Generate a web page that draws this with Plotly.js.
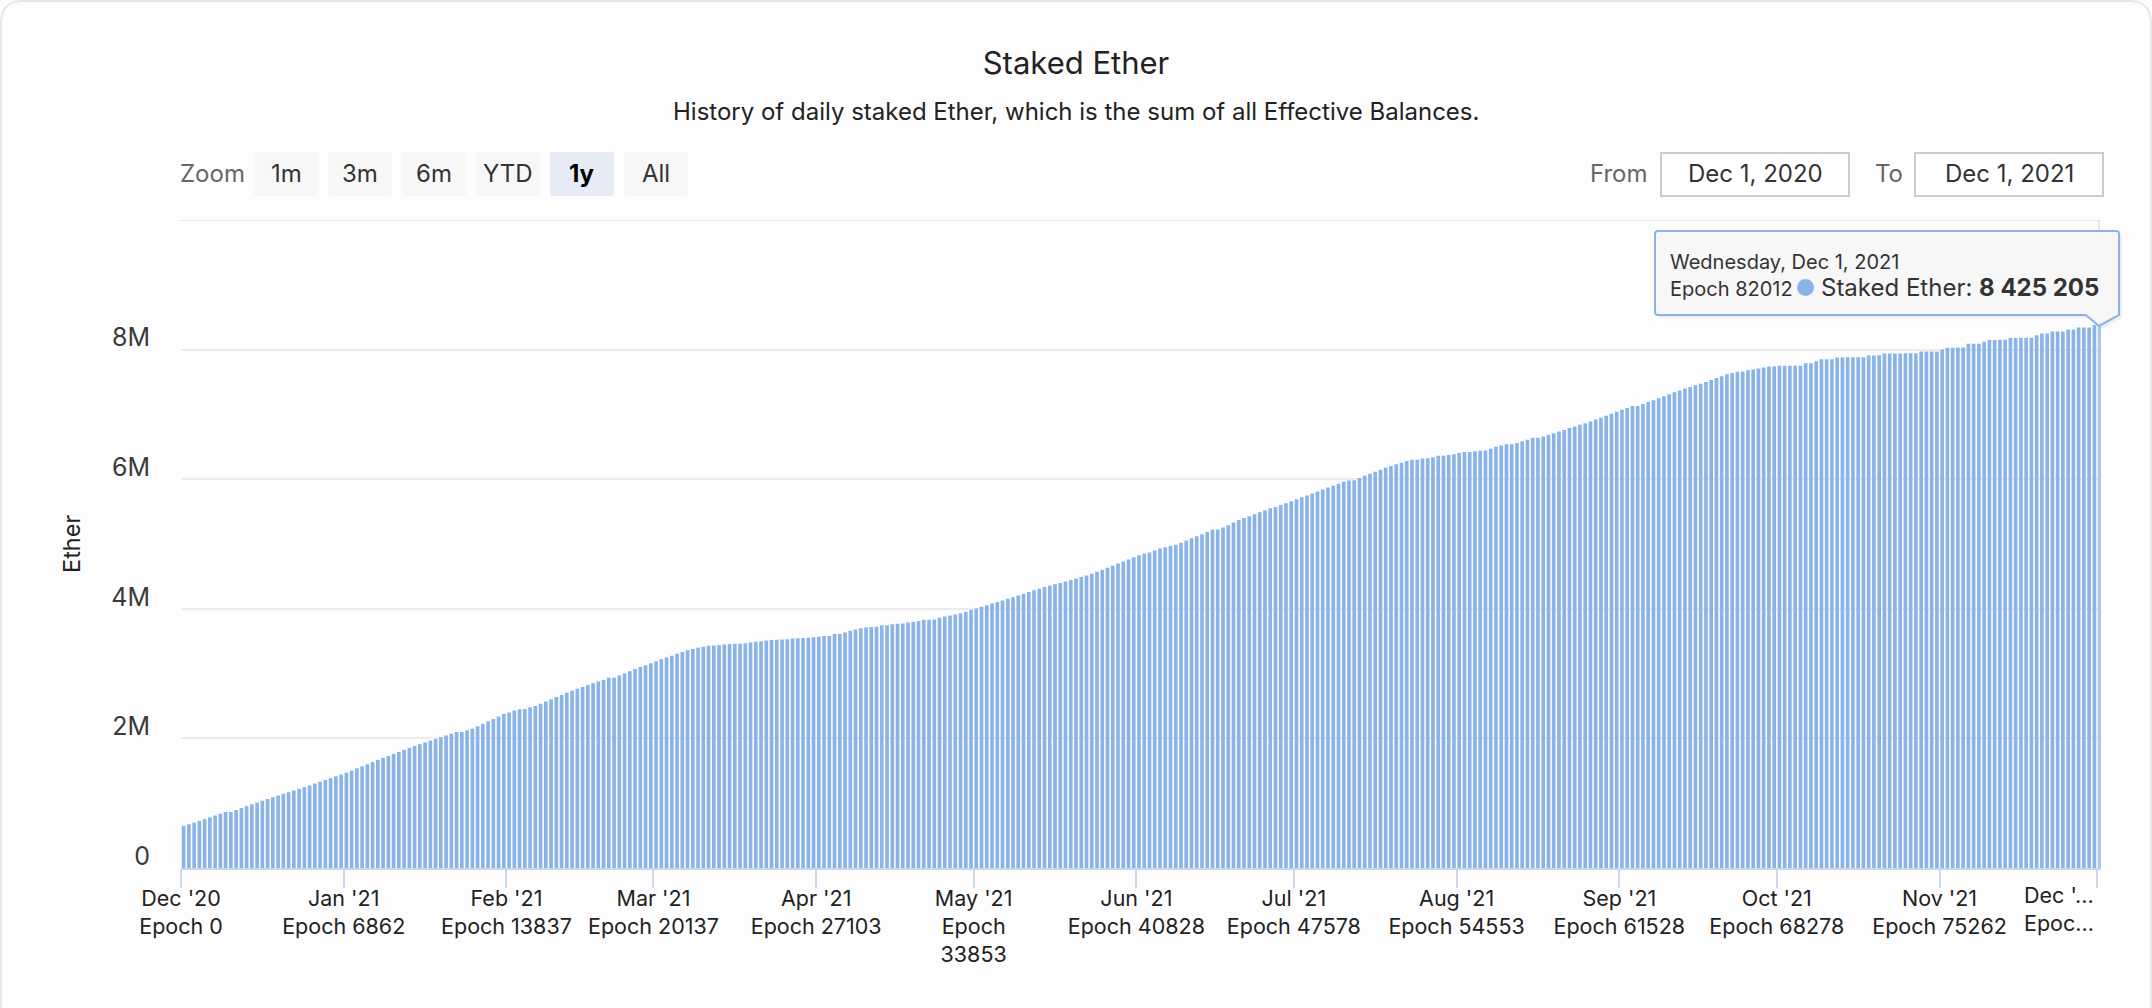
<!DOCTYPE html>
<html>
<head>
<meta charset="utf-8">
<script src="https://cdn.plot.ly/plotly-3.0.1.min.js"></script>
<style>
html,body{margin:0;padding:0;background:#fdfdfd;}
#chart{width:2152px;height:1008px;}
</style>
</head>
<body>
<div id="chart"></div>
<script>
// ---- DATA ----
const firstDay = [2020, 11, 1]; // Dec 1, 2020 (month index 11)
// Daily staked Ether, in thousands of ETH, Dec 1 2020 .. Dec 1 2021
const stakedK = [
  // Dec 2020
  649,675,700,728,755,782,810,838,865,866,895,925,954,983,1010,1038,1065,1092,1118,1145,1170,1196,1222,1248,1275,1303,1331,1359,1387,1415,1443,
  // Jan 2021
  1471,1504,1537,1568,1600,1633,1666,1699,1730,1761,1792,1823,1854,1884,1911,1938,1965,1992,2019,2046,2073,2100,2100,2125,2150,2187,2224,2262,2300,2338,2378,
  // Feb
  2400,2430,2450,2452,2480,2500,2535,2570,2602,2637,2670,2704,2735,2765,2795,2825,2852,2878,2903,2935,2937,2970,3003,3036,3070,3100,3130,3160,
  // Mar
  3190,3220,3250,3275,3305,3335,3360,3380,3400,3415,3430,3435,3440,3448,3455,3460,3462,3470,3480,3490,3500,3510,3520,3521,3525,3530,3540,3545,3550,3553,3560,
  // Apr
  3570,3580,3582,3610,3612,3635,3660,3680,3700,3712,3720,3722,3745,3746,3760,3770,3772,3790,3800,3812,3830,3831,3833,3860,3880,3895,3912,3930,3955,3980,
  // May
  4005,4030,4055,4080,4105,4130,4155,4180,4205,4230,4258,4285,4310,4335,4360,4380,4400,4420,4443,4467,4490,4515,4540,4570,4600,4632,4665,4700,4730,4762,4795,
  // Jun
  4825,4850,4870,4900,4930,4950,4970,4990,5020,5055,5090,5120,5150,5185,5220,5222,5255,5290,5330,5370,5400,5430,5460,5490,5520,5550,5572,5600,5630,5660,
  // Jul
  5690,5720,5750,5780,5810,5840,5870,5900,5930,5960,5980,5982,6020,6055,6085,6115,6145,6175,6205,6230,6255,6280,6300,6302,6320,6322,6340,6360,6362,6372,6385,
  // Aug
  6405,6420,6421,6430,6440,6441,6470,6500,6520,6540,6541,6560,6585,6610,6640,6641,6660,6685,6710,6735,6760,6790,6815,6840,6865,6892,6920,6950,6980,7010,7040,
  // Sep
  7070,7100,7130,7131,7160,7190,7220,7250,7280,7310,7340,7370,7400,7422,7450,7472,7500,7530,7560,7590,7620,7640,7660,7662,7680,7692,7710,7722,7740,7742,
  // Oct
  7750,7750,7751,7752,7752,7790,7791,7820,7850,7851,7852,7880,7880,7881,7882,7882,7883,7910,7910,7911,7940,7940,7941,7941,7942,7942,7943,7970,7970,7971,7972,
  // Nov
  8000,8030,8030,8031,8032,8090,8090,8091,8120,8150,8150,8151,8152,8180,8180,8181,8182,8183,8220,8250,8250,8280,8280,8281,8310,8310,8340,8340,8341,8380,
  // Dec 1 2021
  8425.205
];
const monthTicks = ['2020-12-01','2021-01-01','2021-02-01','2021-03-01','2021-04-01','2021-05-01','2021-06-01','2021-07-01','2021-08-01','2021-09-01','2021-10-01','2021-11-01','2021-12-01'];
const monthLabels = ["Dec '20","Jan '21","Feb '21","Mar '21","Apr '21","May '21","Jun '21","Jul '21","Aug '21","Sep '21","Oct '21","Nov '21","Dec '21"];
const monthEpochs = [0,6862,13837,20137,27103,33853,40828,47578,54553,61528,68278,75262,82012];
const yTickVals = [0,2e6,4e6,6e6,8e6,10e6];
const yTickText = ['0','2M','4M','6M','8M',''];
const zoomButtons = ['1m','3m','6m','YTD','1y','All'];
const selectedButton = '1y';
const fromText = 'Dec 1, 2020';
const toText = 'Dec 1, 2021';
const tooltipDate = 'Wednesday, Dec 1, 2021';
const tooltipEpoch = 'Epoch 82012';

// ---- BUILD ----
function pad(n){return (n<10?'0':'')+n;}
const dates = stakedK.map((_, i) => {
  const d = new Date(Date.UTC(firstDay[0], firstDay[1], firstDay[2] + i));
  return d.getUTCFullYear() + '-' + pad(d.getUTCMonth()+1) + '-' + pad(d.getUTCDate()) + ' 12:00';
});
const values = stakedK.map(v => Math.round(v * 1000));
const barColor = '#8ab4e8';
const colors = values.map((_, i) => i === values.length - 1 ? '#a3c8f2' : barColor);

const tickText = monthLabels.map((m, i) => {
  if (i === monthLabels.length - 1) return '';
  if (i === 5) return m + '<br>Epoch<br>' + monthEpochs[i];
  return m + '<br>Epoch ' + monthEpochs[i];
});

// pixel -> paper helpers
const W = 2152, H = 1008, L = 181, R = 51, T = 220, B = 140;
const PW = W - L - R, PH = H - T - B;
const X = px => (px - L) / PW;
const Y = py => (H - B - py) / PH;
const P = (px, py) => X(px) + ',' + Y(py);
function rrect(x0, y0, x1, y1, r) {
  return 'M' + P(x0 + r, y0) + ' L' + P(x1 - r, y0) + ' Q' + P(x1, y0) + ' ' + P(x1, y0 + r) +
    ' L' + P(x1, y1 - r) + ' Q' + P(x1, y1) + ' ' + P(x1 - r, y1) +
    ' L' + P(x0 + r, y1) + ' Q' + P(x0, y1) + ' ' + P(x0, y1 - r) +
    ' L' + P(x0, y0 + r) + ' Q' + P(x0, y0) + ' ' + P(x0 + r, y0) + ' Z';
}

const FONT = 'Inter, "Noto Sans", sans-serif';
const shapes = [];
const annotations = [];

// card border
shapes.push({type:'path', xref:'paper', yref:'paper', path: rrect(1, 1, 2151, 1030, 22),
  line:{color:'#e6e6e6', width:2}, fillcolor:'rgba(0,0,0,0)', layer:'below'});

// top grid line (10M)
shapes.push({type:'line', xref:'paper', yref:'y', x0:X(178), x1:1, y0:yTickVals[yTickVals.length-1], y1:yTickVals[yTickVals.length-1],
  line:{color:'#ececec', width:2}, layer:'below'});

// zoom label + buttons
annotations.push({xref:'paper', yref:'paper', x:X(178), y:Y(174), xanchor:'left', yanchor:'middle',
  text:'Zoom', showarrow:false, font:{family:FONT, size:24, color:'#666'}});
const btnX = [254, 328, 402, 476, 550, 624];
const btnW = 64;
zoomButtons.forEach((b, i) => {
  const sel = b === selectedButton;
  shapes.push({type:'path', xref:'paper', yref:'paper', path: rrect(btnX[i], 152, btnX[i] + btnW, 196, 3),
    line:{width:0}, fillcolor: sel ? '#e6ebf5' : '#f7f7f7', layer:'below'});
  annotations.push({xref:'paper', yref:'paper', x:X(btnX[i] + btnW/2), y:Y(174), xanchor:'center', yanchor:'middle',
    text: sel ? '<b>' + b + '</b>' : b, showarrow:false, font:{family:FONT, size:24, color: sel ? '#000' : '#333'}});
});

// From / To
annotations.push({xref:'paper', yref:'paper', x:X(1588), y:Y(174), xanchor:'left', yanchor:'middle',
  text:'From', showarrow:false, font:{family:FONT, size:24, color:'#666'}});
annotations.push({xref:'paper', yref:'paper', x:X(1873), y:Y(174), xanchor:'left', yanchor:'middle',
  text:'To', showarrow:false, font:{family:FONT, size:24, color:'#666'}});
[[1661, 1849, fromText], [1915, 2103, toText]].forEach(([a, b, t]) => {
  shapes.push({type:'rect', xref:'paper', yref:'paper', x0:X(a), x1:X(b), y0:Y(153), y1:Y(196),
    line:{color:'#cccccc', width:2}, fillcolor:'#ffffff', layer:'below'});
  annotations.push({xref:'paper', yref:'paper', x:X((a + b)/2), y:Y(174), xanchor:'center', yanchor:'middle',
    text:t, showarrow:false, font:{family:FONT, size:24, color:'#333'}});
});

// subtitle
annotations.push({xref:'paper', yref:'paper', x:X(1076), y:Y(112), xanchor:'center', yanchor:'middle',
  text:'History of daily staked Ether, which is the sum of all Effective Balances.', showarrow:false,
  font:{family:FONT, size:24, color:'#222'}});

// y axis title
annotations.push({xref:'paper', yref:'paper', x:X(71), y:Y(544), xanchor:'center', yanchor:'middle',
  text:'Ether', textangle:-90, showarrow:false, font:{family:FONT, size:23.5, color:'#222'}});

// truncated last x tick label
annotations.push({xref:'paper', yref:'paper', x:X(2022), y:Y(880), xanchor:'left', yanchor:'top', align:'left',
  text:"Dec '...<br>Epoc...", showarrow:false, font:{family:FONT, size:21.5, color:'#222'}});

// crosshair stub
shapes.push({type:'line', xref:'paper', yref:'paper', x0:X(2099), x1:X(2099), y0:Y(220), y1:Y(240),
  line:{color:'#cccccc', width:1}});

// tooltip
const tipPath = 'M' + P(1658, 231) + ' L' + P(2116, 231) + ' Q' + P(2119, 231) + ' ' + P(2119, 234) +
  ' L' + P(2119, 315) + ' L' + P(2099, 326) + ' L' + P(2086, 315) + ' L' + P(1658, 315) +
  ' Q' + P(1655, 315) + ' ' + P(1655, 312) + ' L' + P(1655, 234) + ' Q' + P(1655, 231) + ' ' + P(1658, 231) + ' Z';
shapes.push({type:'path', xref:'paper', yref:'paper', path: tipPath.replace(/(-?\d*\.?\d+),(-?\d*\.?\d+)/g, (m, a, b) => (parseFloat(a) + 3/PW) + ',' + (parseFloat(b) - 3/PH)),
  line:{width:0}, fillcolor:'rgba(0,0,0,0.06)', layer:'above'});
shapes.push({type:'path', xref:'paper', yref:'paper', path: tipPath,
  line:{color:barColor, width:2}, fillcolor:'rgba(247,247,247,0.92)', layer:'above'});
shapes.push({type:'circle', xref:'paper', yref:'paper', x0:X(1797), x1:X(1814), y0:Y(279), y1:Y(296),
  line:{width:0}, fillcolor:barColor, layer:'above'});
const lastVal = values[values.length - 1].toLocaleString('en-US').replace(/,/g, ' ');
annotations.push({xref:'paper', yref:'paper', x:X(1668), y:Y(262), xanchor:'left', yanchor:'middle',
  text:tooltipDate, showarrow:false, font:{family:FONT, size:20, color:'#333'}});
annotations.push({xref:'paper', yref:'paper', x:X(1668), y:Y(289), xanchor:'left', yanchor:'middle',
  text:tooltipEpoch, showarrow:false, font:{family:FONT, size:20, color:'#333'}});
annotations.push({xref:'paper', yref:'paper', x:X(1819), y:Y(287), xanchor:'left', yanchor:'middle',
  text:'Staked Ether: <b>' + lastVal + '</b>', showarrow:false, font:{family:FONT, size:24, color:'#333'}});

const trace = {
  type:'bar', x:dates, y:values, marker:{color:colors, line:{width:0}},
  hoverinfo:'skip', name:'Staked Ether'
};

const layout = {
  width:W, height:H, autosize:false,
  margin:{l:L, r:R, t:T, b:B, pad:0},
  paper_bgcolor:'#fdfdfd', plot_bgcolor:'rgba(0,0,0,0)',
  font:{family:FONT, color:'#333'},
  title:{text:'Staked Ether', font:{family:FONT, size:31, color:'#222'},
    x:1076/W, xref:'container', xanchor:'center', y:1 - 63/H, yref:'container', yanchor:'middle'},
  bargap:0.3,
  showlegend:false,
  xaxis:{type:'date', range:['2020-12-01 00:00','2021-12-01 18:15'],
    tickmode:'array', tickvals:monthTicks, ticktext:tickText,
    ticks:'outside', ticklen:18, tickwidth:2, tickcolor:'#ccd6eb',
    showline:true, linecolor:'#ccd6eb', linewidth:2, showgrid:false, zeroline:false,
    ticklabelstandoff:-8,
    tickfont:{family:FONT, size:21.5, color:'#222'}, fixedrange:true},
  yaxis:{range:[0, 10e6], tickmode:'array', tickvals:yTickVals, ticktext:yTickText,
    showgrid:true, gridcolor:'#ececec', gridwidth:2, zeroline:false, showline:false,
    ticks:'', ticklabelstandoff:30, ticklabelshift:-12,
    tickfont:{family:FONT, size:25, color:'#3a3a3a'}, fixedrange:true},
  shapes:shapes, annotations:annotations
};

Plotly.newPlot('chart', [trace], layout, {displayModeBar:false, staticPlot:true});
</script>
</body>
</html>
